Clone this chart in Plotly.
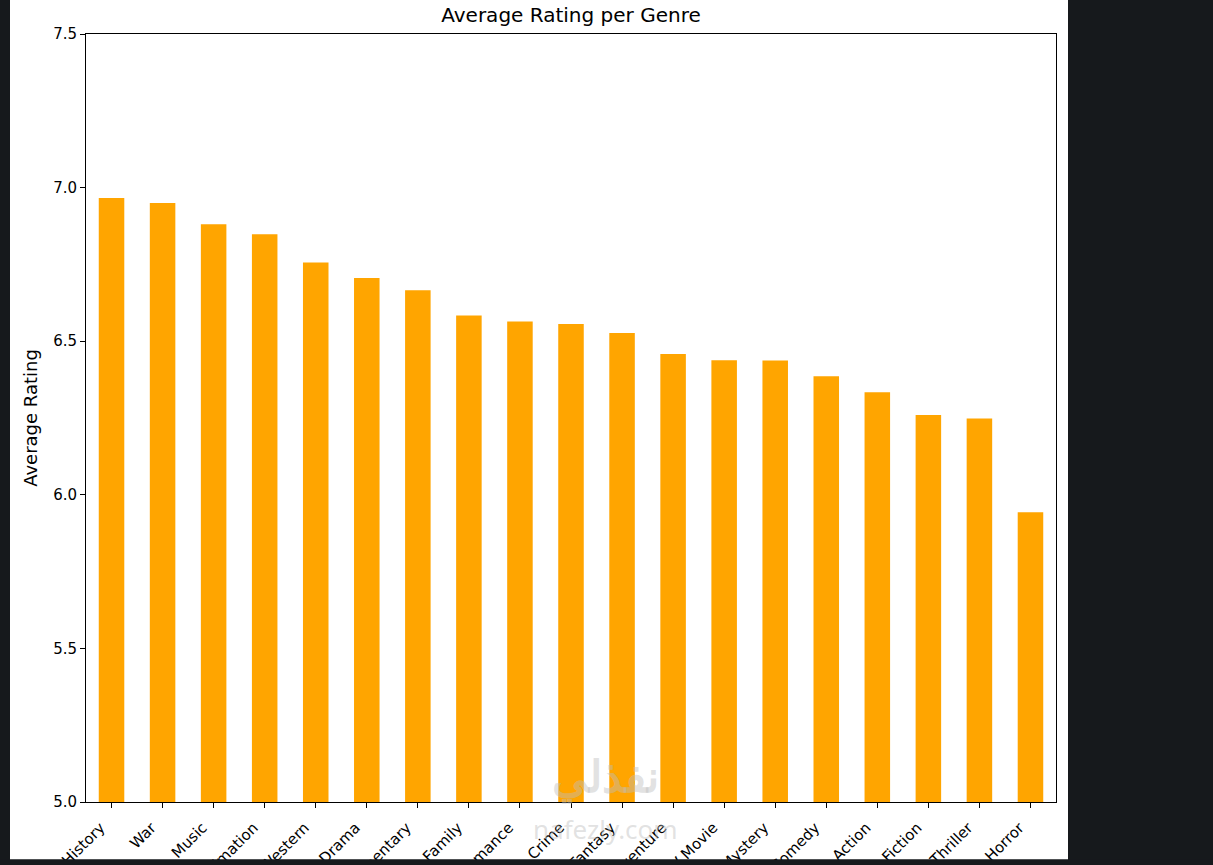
import plotly.graph_objects as go

# genres sorted by average rating
genres = ['History', 'War', 'Music', 'Animation', 'Western', 'Drama', 'Documentary',
          'Family', 'Romance', 'Crime', 'Fantasy', 'Adventure', 'TV Movie', 'Mystery',
          'Comedy', 'Action', 'Science Fiction', 'Thriller', 'Horror']
avg_rating = [6.966, 6.950, 6.881, 6.848, 6.756, 6.706, 6.666,
              6.584, 6.564, 6.556, 6.527, 6.458, 6.438, 6.437,
              6.386, 6.334, 6.260, 6.248, 5.943]
y_ticks = [5.0, 5.5, 6.0, 6.5, 7.0, 7.5]

W, H = 1213, 865
L, R, T, B = 86, 1056, 33.5, 802.5   # plot area in pixels
dark = '#16191c'


def px_x(p):
    return (p - L) / (R - L)


def px_y(p):
    return (B - p) / (B - T)


fig = go.Figure()
fig.add_trace(go.Bar(x=genres, y=avg_rating, marker_color='#ffa500',
                     marker_line_width=0))

fig.update_layout(
    width=W, height=H,
    margin=dict(l=L, r=W - R, t=T, b=H - B, autoexpand=False),
    paper_bgcolor=dark,
    plot_bgcolor='white',
    bargap=0.5,
    showlegend=False,
    font=dict(family='DejaVu Sans', size=15, color='#000000'),
    title=dict(text='Average Rating per Genre', x=0.5, xanchor='center',
               xref='paper', y=1 - 15 / H, yanchor='middle',
               font=dict(size=20, color='#000000')),
)
fig.update_xaxes(range=[-0.5, len(genres) - 0.5], tickangle=-45, automargin=False,
                 ticklabelshift=-11, ticklabelstandoff=5,
                 showline=True, mirror=True, linecolor='#000000', linewidth=1,
                 ticks='outside', ticklen=5, tickcolor='#000000', showgrid=False)
fig.update_yaxes(range=[5.0, 7.5], tickvals=y_ticks, tickformat='.1f',
                 automargin=False,
                 title=dict(text='Average Rating', standoff=10),
                 showline=True, mirror=True, linecolor='#000000', linewidth=1,
                 ticks='outside', ticklen=5, tickcolor='#000000', showgrid=False,
                 zeroline=False)

# white page of the screenshot and the dark frame around it
fig.add_shape(type='rect', xref='paper', yref='paper', layer='below',
              x0=px_x(10), x1=px_x(1068), y0=px_y(860), y1=px_y(-20),
              fillcolor='white', line_width=0)
fig.add_shape(type='rect', xref='paper', yref='paper', layer='above',
              x0=px_x(-20), x1=px_x(1240), y0=px_y(860), y1=px_y(880),
              fillcolor=dark, line_width=0)

# faint watermark
fig.add_annotation(xref='paper', yref='paper', x=px_x(605), y=px_y(808),
                   text='<b>نفذلي</b>', showarrow=False,
                   font=dict(family='Noto Sans', size=44, color='rgba(190,190,190,0.45)'))
fig.add_annotation(xref='paper', yref='paper', x=px_x(605), y=px_y(850),
                   text='nafezly.com', showarrow=False,
                   font=dict(family='Noto Sans', size=26, color='rgba(190,190,190,0.45)'))

fig.write_html('out.html', config={'displayModeBar': False},
               post_script="document.body.style.margin='0px';")
